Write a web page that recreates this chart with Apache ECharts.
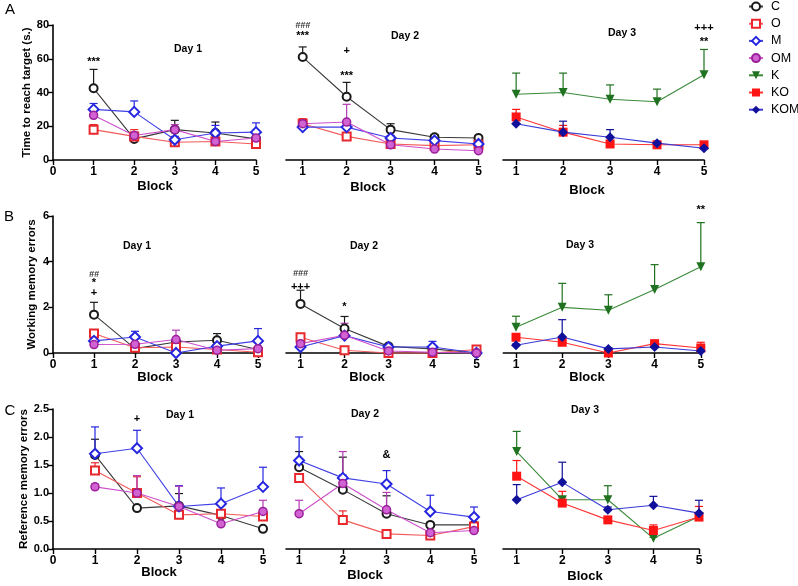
<!DOCTYPE html>
<html><head><meta charset="utf-8">
<script src="https://cdn.jsdelivr.net/npm/echarts@6/dist/echarts.min.js"></script>
<style>html,body{margin:0;padding:0;background:#fff}#c{width:798px;height:586px}</style>
</head><body><div id="c"></div>
<script>
// ---------- data ----------
const blocks = [1, 2, 3, 4, 5];
const groups = ['C', 'O', 'M', 'OM', 'K', 'KO', 'KOM'];
const panelLetters = ['A', 'B', 'C'];
const dayLabels = ['Day 1', 'Day 2', 'Day 3'];
const yTitles = ['Time to reach target (s.)', 'Working memory errors', 'Reference memory errors'];
const xTitle = 'Block';
const xTicksDay1 = [0, 1, 2, 3, 4, 5];
const yTicksA = [0, 20, 40, 60, 80];
const yTicksB = [0, 2, 4, 6];
const yTicksC = [0, 0.5, 1.0, 1.5, 2.0, 2.5];

// Panel A: time to reach target (mean, SEM)
const A_d1 = { C: [42.5, 12.5, 18, 16, 12.5], O: [18, 14, 10.5, 11, 9.5], M: [30, 28.5, 12, 16, 16.5], OM: [26.5, 14.5, 18, 11, 13] };
const A_d1_se = { C: [11.2, 1.5, 5.5, 6.5, 2], O: [3, 4, 1.5, 1.5, 1.5], M: [3.5, 6.5, 2, 4.5, 5.5], OM: [2, 2, 3, 1.5, 1.5] };
const A_d2 = { C: [61, 37.5, 18, 13.5, 13], O: [21.5, 14, 9.5, 8.5, 9], M: [19.5, 19.5, 13, 11.5, 9.5], OM: [21.5, 22.5, 9, 6.5, 5.5] };
const A_d2_se = { C: [6, 8.5, 3.5, 1.5, 1.5], O: [3, 1.5, 1, 1, 1], M: [1.5, 2, 1.5, 1.5, 1], OM: [2, 10.5, 1, 1, 1] };
const A_d3 = { K: [39, 40, 36, 34.5, 50.5], KO: [25.5, 16.5, 9.5, 9, 9], KOM: [21.5, 16.5, 13.5, 10, 7] };
const A_d3_se = { K: [12.5, 11.5, 8.5, 7.5, 15], KO: [4.5, 4, 1.5, 1, 1], KOM: [2, 6.5, 4.5, 1, 1] };
const A_notes = [[0, 1, 58, '***'], [1, 1, 79.4, '###'], [1, 1, 73.5, '***'], [1, 2, 64.6, '+'], [1, 2, 49.8, '***'], [2, 5, 78.2, '+++'], [2, 5, 70, '**']];

// Panel B: working memory errors
const B_d1 = { C: [1.68, 0.19, 0.48, 0.56, 0.15], O: [0.85, 0.23, 0.26, 0.15, 0.03], M: [0.53, 0.7, 0, 0.3, 0.53], OM: [0.37, 0.38, 0.59, 0.12, 0.19] };
const B_d1_se = { C: [0.54, 0.05, 0.05, 0.29, 0.05], O: [0.1, 0.05, 0.05, 0.05, 0.05], M: [0.1, 0.25, 0.02, 0.05, 0.54], OM: [0.05, 0.05, 0.41, 0.05, 0.05] };
const B_d2 = { C: [2.15, 1.07, 0.29, 0.18, 0], O: [0.69, 0.12, 0, 0, 0.15], M: [0.26, 0.76, 0.26, 0.26, 0], OM: [0.41, 0.78, 0.09, 0.03, 0] };
const B_d2_se = { C: [0.6, 0.53, 0.05, 0.05, 0], O: [0.1, 0.03, 0, 0, 0.05], M: [0.05, 0.1, 0.05, 0.25, 0], OM: [0.05, 0.52, 0.03, 0.03, 0] };
const B_d3 = { K: [1.13, 2.0, 1.87, 2.78, 3.78], KO: [0.69, 0.47, 0, 0.41, 0.22], KOM: [0.34, 0.7, 0.18, 0.26, 0.09] };
const B_d3_se = { K: [0.48, 1.05, 0.68, 1.09, 1.93], KO: [0.05, 0.05, 0.05, 0.05, 0.25], KOM: [0.05, 0.76, 0.05, 0.05, 0.05] };
const B_notes = [[0, 1, 3.42, '##'], [0, 1, 3.07, '*'], [0, 1, 2.63, '+'], [1, 1, 3.46, '###'], [1, 1, 2.89, '+++'], [1, 2, 2.02, '*'], [2, 5, 6.27, '**']];

// Panel C: reference memory errors
const C_d1 = { C: [1.68, 0.73, 0.77, 0.6, 0.36], O: [1.4, 1.0, 0.61, 0.63, 0.58], M: [1.7, 1.8, 0.76, 0.81, 1.11], OM: [1.11, 1.0, 0.76, 0.45, 0.67] };
const C_d1_se = { C: [0.28, 0.05, 0.22, 0.05, 0.03], O: [0.14, 0.29, 0.05, 0.05, 0.05], M: [0.48, 0.32, 0.37, 0.28, 0.35], OM: [0.05, 0.31, 0.36, 0.03, 0.2] };
const C_d2 = { C: [1.46, 1.06, 0.63, 0.43, 0.43], O: [1.27, 0.52, 0.27, 0.24, 0.4], M: [1.58, 1.27, 1.16, 0.67, 0.57], OM: [0.63, 1.17, 0.7, 0.29, 0.33] };
const C_d2_se = { C: [0.28, 0.58, 0.32, 0.05, 0.03], O: [0.05, 0.16, 0.03, 0.03, 0.03], M: [0.42, 0.05, 0.24, 0.29, 0.18], OM: [0.24, 0.57, 0.31, 0.03, 0.03] };
const C_d3 = { K: [1.74, 0.88, 0.88, 0.19, 0.58], KO: [1.3, 0.82, 0.52, 0.33, 0.57], KOM: [0.88, 1.19, 0.7, 0.78, 0.64] };
const C_d3_se = { K: [0.36, 0.05, 0.25, 0.02, 0.03], KO: [0.28, 0.21, 0.03, 0.1, 0.19], KOM: [0.27, 0.36, 0.05, 0.16, 0.23] };
const C_notes = [[0, 2, 2.33, '+'], [1, 3, 1.68, '&']];

// ---------- styling / layout ----------
const FONT = "'Liberation Sans', Arial, sans-serif";
const MARK = { C: '#1a1a1a', O: '#e8282d', M: '#2626e0', OM: '#b53ab5', K: '#1f721f', KO: '#ff1414', KOM: '#10109a' };
const LINE = { C: '#3a3a3a', O: '#f25a5a', M: '#4040e6', OM: '#cc4fcc', K: '#3a8a3a', KO: '#ff3535', KOM: '#3a3ad6' };
const SYM = { C: 'emptyCircle', O: 'emptyRect', M: 'emptyDiamond', OM: 'circle', K: 'triangle', KO: 'rect', KOM: 'diamond' };
const SYMSIZE = { C: 8, O: 8, M: 10, OM: 8, K: 9, KO: 9, KOM: 10 };

const GRIDS = [
  [53, 25, 203, 135], [286, 25, 192.5, 135], [503, 25, 201, 135],
  [53, 216, 205, 137], [286, 216, 190.5, 137], [503.3, 216, 197.5, 137],
  [53, 409, 210, 140], [286, 409, 188, 140], [503, 409, 196, 140]
];
const XMIN = [0, 0.62, 0.72, 0, 0.67, 0.725, 0, 0.7, 0.7];
const panelMeans = [[A_d1, A_d2, A_d3], [B_d1, B_d2, B_d3], [C_d1, C_d2, C_d3]];
const panelSE = [[A_d1_se, A_d2_se, A_d3_se], [B_d1_se, B_d2_se, B_d3_se], [C_d1_se, C_d2_se, C_d3_se]];
const panelNotes = [A_notes, B_notes, C_notes];
const panelYTicks = [yTicksA, yTicksB, yTicksC];
const yNameGap = [19, 15, 22];
const dayPos = [[[188, 50], [405, 37], [622, 34]], [[137, 247], [364, 247], [580, 246]], [[180, 416], [365, 415], [585, 411]]];
const blockPos = [[[155, 187], [368, 188], [587, 191]], [[155, 378], [367, 378], [587, 378]], [[159, 573], [365, 576], [585, 577]]];
const letterPos = [[10, 10], [9, 217], [10, 411]];

const grid = [], xAxis = [], yAxis = [], series = [], title = [];
for (let p = 0; p < 3; p++) {
  const yt = panelYTicks[p];
  for (let d = 0; d < 3; d++) {
    const gi = p * 3 + d;
    const g = GRIDS[gi];
    grid.push({ left: g[0], top: g[1], width: g[2], height: g[3], containLabel: false });
    const axisLine = { show: true, lineStyle: { color: '#000', width: 1.6 } };
    const axisTick = { show: true, length: 5, lineStyle: { color: '#000', width: 1.4 } };
    const axisLabel = { color: '#000', fontFamily: FONT, fontWeight: 'bold', fontSize: 11, margin: 4 };
    const xLabel = Object.assign({}, axisLabel, { fontSize: 12, margin: 6 });
    if (d === 0) {
      xAxis.push({ type: 'value', gridIndex: gi, min: xTicksDay1[0], max: xTicksDay1[xTicksDay1.length - 1], interval: 1,
        axisLine, axisTick, axisLabel: xLabel, splitLine: { show: false } });
      yAxis.push({ type: 'value', gridIndex: gi, min: yt[0], max: yt[yt.length - 1], interval: yt[1] - yt[0],
        axisLine, axisTick, splitLine: { show: false },
        axisLabel: Object.assign({}, axisLabel, { formatter: p === 2 ? (v) => v.toFixed(1) : (v) => String(v) }),
        name: yTitles[p], nameLocation: 'middle', nameGap: yNameGap[p],
        nameTextStyle: { color: '#000', fontFamily: FONT, fontWeight: 'bold', fontSize: 11.5 } });
    } else {
      xAxis.push({ type: 'value', gridIndex: gi, min: XMIN[gi], max: xTicksDay1[xTicksDay1.length - 1],
        axisLine,
        axisTick: Object.assign({}, axisTick, { customValues: blocks }),
        axisLabel: Object.assign({}, xLabel, { customValues: blocks }),
        splitLine: { show: false } });
      yAxis.push({ type: 'value', gridIndex: gi, min: yt[0], max: yt[yt.length - 1], show: false, splitLine: { show: false } });
    }
    // titles
    const dp = dayPos[p][d];
    title.push({ text: dayLabels[d], left: dp[0], top: dp[1] - 6, textAlign: 'center', padding: 0,
      textStyle: { fontFamily: FONT, fontWeight: 'bold', fontSize: 10.5, color: '#000' } });
    const bp = blockPos[p][d];
    title.push({ text: xTitle, left: bp[0], top: bp[1] - 7, textAlign: 'center', padding: 0,
      textStyle: { fontFamily: FONT, fontWeight: 'bold', fontSize: 13, color: '#000' } });

    const means = panelMeans[p][d], ses = panelSE[p][d];
    Object.keys(means).forEach((name) => {
      const m = means[name], s = ses[name];
      const col = MARK[name];
      series.push({
        type: 'custom', name: name + ' SEM', xAxisIndex: gi, yAxisIndex: gi, z: 2, silent: true, clip: false,
        data: blocks.map((b, i) => [b, m[i], m[i] + s[i]]),
        renderItem: (params, api) => {
          const p0 = api.coord([api.value(0), api.value(1)]);
          const p1 = api.coord([api.value(0), api.value(2)]);
          const w = 4;
          return { type: 'group', children: [
            { type: 'line', shape: { x1: p0[0], y1: p0[1], x2: p1[0], y2: p1[1] }, style: { stroke: col, lineWidth: 1.2 } },
            { type: 'line', shape: { x1: p1[0] - w, y1: p1[1], x2: p1[0] + w, y2: p1[1] }, style: { stroke: col, lineWidth: 1.2 } }
          ] };
        }
      });
      series.push({
        type: 'line', name, xAxisIndex: gi, yAxisIndex: gi, z: 3,
        data: blocks.map((b, i) => [b, m[i]]),
        symbol: SYM[name], symbolSize: SYMSIZE[name], symbolRotate: name === 'K' ? 180 : 0,
        showSymbol: true, animation: false, clip: false,
        lineStyle: { color: LINE[name], width: 1.1 },
        itemStyle: name === 'OM' ? { color: '#d263d2', borderColor: '#9b1f9b', borderWidth: 1.5 }
          : { color: col, borderColor: col, borderWidth: SYM[name].startsWith('empty') ? 1.6 : 0 }
      });
    });
    // significance annotations
    const notes = panelNotes[p].filter((n) => n[0] === d);
    if (notes.length) {
      series.push({
        type: 'custom', name: 'notes', xAxisIndex: gi, yAxisIndex: gi, z: 5, silent: true, clip: false,
        data: notes.map((n) => [n[1], n[2]]),
        renderItem: (params, api) => {
          const pt = api.coord([api.value(0), api.value(1)]);
          const t = notes[params.dataIndex][3];
          const hash = t[0] === '#';
          return { type: 'text', x: pt[0], y: pt[1], style: {
            text: t, fill: hash ? '#333' : '#000', align: 'center', verticalAlign: 'middle',
            textAlign: 'center', textVerticalAlign: 'middle',
            font: (hash ? 'italic bold 9px ' : 'bold 11px ') + FONT } };
        }
      });
    }
  }
  title.push({ text: panelLetters[p], left: letterPos[p][0], top: letterPos[p][1] - 8, textAlign: 'center', padding: 0,
    textStyle: { fontFamily: FONT, fontWeight: 'normal', fontSize: 15, color: '#000' } });
}

const chart = echarts.init(document.getElementById('c'), null, { renderer: 'canvas' });
chart.setOption({
  backgroundColor: '#fff',
  animation: false,
  title, grid, xAxis, yAxis, series,
  legend: {
    data: groups, orient: 'vertical', left: 748, top: 0, itemWidth: 14, itemHeight: 10, itemGap: 4.2,
    selectedMode: false, padding: 0,
    textStyle: { fontFamily: FONT, fontSize: 12.5, color: '#000', lineHeight: 12, padding: [0, 0, 0, 3] }
  }
});
</script></body></html>
